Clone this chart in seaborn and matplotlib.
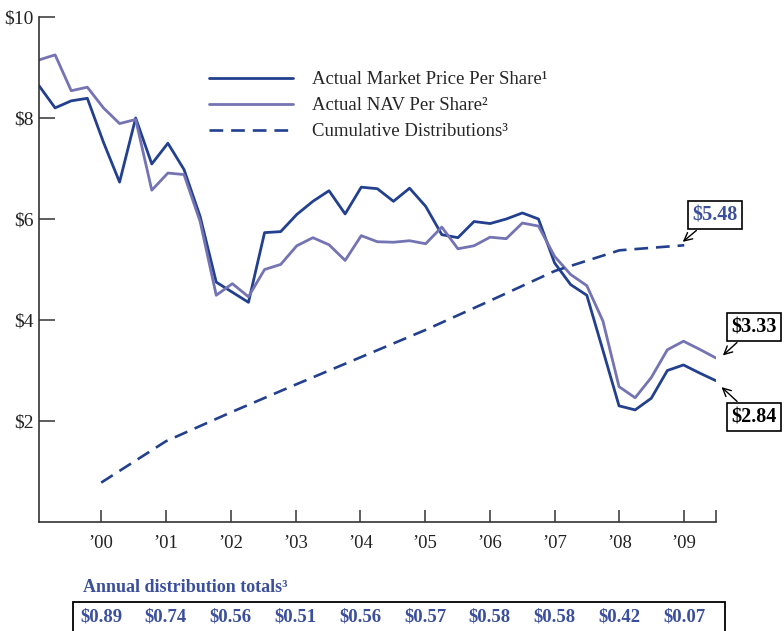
import numpy as np
import pandas as pd
import matplotlib
matplotlib.use("Agg")
import matplotlib.pyplot as plt
import matplotlib.transforms as mtransforms
from matplotlib.patches import Rectangle
import seaborn as sns

# quarterly values, first quarter of 1999 through mid 2009
market_price = [8.64, 8.20, 8.34, 8.39, 7.52, 6.73, 8.00, 7.09, 7.50, 6.98,
                6.05, 4.75, 4.55, 4.35, 5.73, 5.75, 6.09, 6.35, 6.56, 6.10,
                6.63, 6.60, 6.35, 6.61, 6.25, 5.69, 5.63, 5.95, 5.91, 6.00,
                6.12, 6.00, 5.13, 4.70, 4.49, 3.40, 2.30, 2.22, 2.45, 3.00,
                3.11, 2.95, 2.80]
nav = [9.15, 9.25, 8.54, 8.61, 8.20, 7.89, 7.97, 6.57, 6.91, 6.88,
       5.95, 4.49, 4.72, 4.46, 5.00, 5.10, 5.47, 5.63, 5.49, 5.18,
       5.67, 5.55, 5.54, 5.57, 5.51, 5.84, 5.41, 5.47, 5.64, 5.61,
       5.92, 5.86, 5.26, 4.90, 4.68, 3.98, 2.68, 2.46, 2.86, 3.41,
       3.58, 3.42, 3.25]

years = [2000, 2001, 2002, 2003, 2004, 2005, 2006, 2007, 2008, 2009]
year_labels = ["’00", "’01", "’02", "’03", "’04", "’05", "’06", "’07", "’08", "’09"]
cum_dist = [0.78, 1.60, 2.17, 2.72, 3.26, 3.80, 4.38, 4.97, 5.38, 5.48]
annual_dist = [0.89, 0.74, 0.56, 0.51, 0.56, 0.57, 0.58, 0.58, 0.42, 0.07]

y_ticks = [2, 4, 6, 8, 10]
y_labels = ["$2", "$4", "$6", "$8", "$10"]

# quarter positions on a decimal-year axis
q_x = 1999.04 + 0.2487 * np.arange(len(market_price))

dark_blue = "#23408f"
light_blue = "#7473b3"
text_blue = "#3b4f9c"

sns.set_style("ticks")
plt.rcParams["font.family"] = ["Liberation Serif", "DejaVu Serif"]

fig = plt.figure(figsize=(7.84, 6.31), dpi=100)
ax = fig.add_axes([39 / 784, 1 - 522 / 631, (716 - 39) / 784, (522 - 17) / 631])

df = pd.DataFrame({"t": q_x, "market": market_price, "nav": nav})
sns.lineplot(data=df, x="t", y="market", color=dark_blue, lw=2.0, ax=ax,
             label="Actual Market Price Per Share¹")
sns.lineplot(data=df, x="t", y="nav", color=light_blue, lw=2.0, ax=ax,
             label="Actual NAV Per Share²")
sns.lineplot(x=years, y=cum_dist, color=dark_blue, lw=1.9, ax=ax,
             linestyle=(0, (5.2, 3.0)), label="Cumulative Distributions³")

ax.set_xlim(1999.04, 2009.49)
ax.set_ylim(0, 10)
ax.set_xlabel("")
ax.set_ylabel("")
ax.set_xticks(years + [2009.49])
ax.set_xticklabels(year_labels + [""])
ax.set_yticks(y_ticks)
ax.set_yticklabels(y_labels)
sns.despine(ax=ax)
for s in ["left", "bottom"]:
    ax.spines[s].set_color("#333333")
    ax.spines[s].set_linewidth(1.2)
ax.tick_params(axis="y", direction="in", length=11.5, width=1.1, color="#333333",
               labelsize=14, pad=4, labelcolor="#222222")
ax.tick_params(axis="x", direction="in", length=8.5, width=1.1, color="#333333",
               labelsize=13.5, pad=9, labelcolor="#222222")

ax.legend(loc="upper left", bbox_to_anchor=(209 / 784, 1 - 71 / 631),
          bbox_transform=fig.transFigure, frameon=False, fontsize=13.5,
          handlelength=4.5, handletextpad=1.0, labelspacing=0.48,
          borderpad=0, borderaxespad=0)

# end-of-line callouts
box = dict(boxstyle="square,pad=0.2", fc="white", ec="black", lw=1.2)
arrow = dict(arrowstyle="->", color="black", lw=1.0, shrinkA=1, shrinkB=1)
ax.annotate("$5.48", xy=(2008.96, 5.53), xytext=(715, 631 - 215),
            textcoords="figure pixels", ha="center", va="center",
            fontsize=14.5, fontweight="bold", color=text_blue,
            bbox=box, arrowprops=arrow, annotation_clip=False)
ax.annotate("$3.33", xy=(2009.58, 3.28), xytext=(754, 631 - 327),
            textcoords="figure pixels", ha="center", va="center",
            fontsize=14.5, fontweight="bold", color="black",
            bbox=box, arrowprops=arrow, annotation_clip=False)
ax.annotate("$2.84", xy=(2009.56, 2.69), xytext=(754, 631 - 417),
            textcoords="figure pixels", ha="center", va="center",
            fontsize=14.5, fontweight="bold", color="black",
            bbox=box, arrowprops=arrow, annotation_clip=False)

# annual distribution totals strip
fig.text(83 / 784, 1 - 588 / 631, "Annual distribution totals³", ha="left",
         va="center", fontsize=13, fontweight="bold", color=text_blue)
fig.add_artist(Rectangle((73 / 784, -4 / 631), (725 - 73) / 784, 33 / 631,
                         transform=fig.transFigure, fill=False, ec="black", lw=1.3))
strip = mtransforms.blended_transform_factory(ax.transData, fig.transFigure)
for yr, val in zip(years, annual_dist):
    ax.text(yr, 1 - 617 / 631, f"${val:.2f}", transform=strip, ha="center",
            va="center", fontsize=13.5, fontweight="bold", color=text_blue,
            clip_on=False)

fig.savefig("out.png", dpi=100)
